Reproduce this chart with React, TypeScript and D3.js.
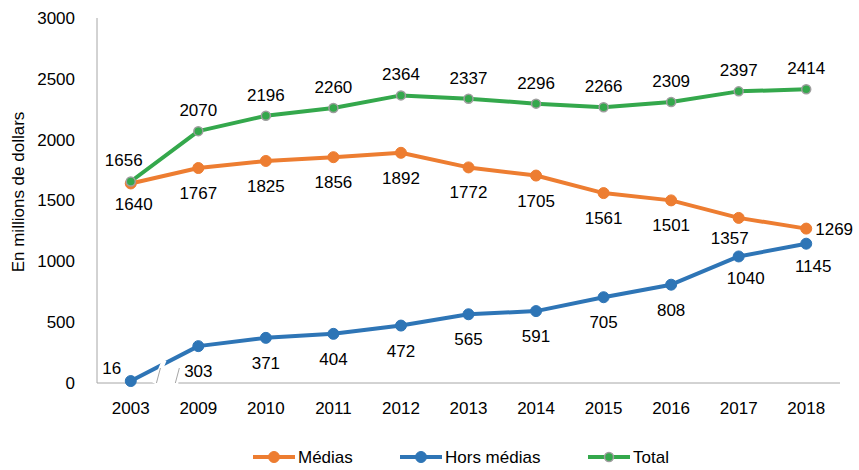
import React from 'react';
import * as d3 from 'd3';

const years = ['2003', '2009', '2010', '2011', '2012', '2013', '2014', '2015', '2016', '2017', '2018'];
const medias = [1640, 1767, 1825, 1856, 1892, 1772, 1705, 1561, 1501, 1357, 1269];
const horsMedias = [16, 303, 371, 404, 472, 565, 591, 705, 808, 1040, 1145];
const total = [1656, 2070, 2196, 2260, 2364, 2337, 2296, 2266, 2309, 2397, 2414];
const yTicks = [0, 500, 1000, 1500, 2000, 2500, 3000];

const W = 859;
const H = 470;
const FONT = '"Liberation Sans", Arial, sans-serif';

const ORANGE = '#ED7D31';
const BLUE = '#2E75B6';
const GREEN = '#34A84C';
const AXIS = '#A6A6A6';

type Series = {
  name: string;
  values: number[];
  color: string;
  pos: 'above' | 'below';
};

const series: Series[] = [
  { name: 'Médias', values: medias, color: ORANGE, pos: 'below' },
  { name: 'Hors médias', values: horsMedias, color: BLUE, pos: 'below' },
  { name: 'Total', values: total, color: GREEN, pos: 'above' },
];

export default function App() {
  const left = 97;
  const right = 840;
  const top = 18;
  const bottom = 383;

  const x = d3.scalePoint<string>().domain(years).range([left, right]).padding(0.5);
  const y = d3.scaleLinear().domain([0, 3000]).range([bottom, top]);
  const step = x.step();

  const line = d3.line<number>()
    .x((_, i) => x(years[i])!)
    .y(d => y(d));

  // axis break between 2003 and 2009
  const x0 = x(years[0])!;
  const b1 = x0 + step * 0.38;
  const b2 = x0 + step * 0.66;

  // label placement tweaks
  const labelPos = (s: Series, i: number, v: number) => {
    let lx = x(years[i])!;
    let ly = y(v);
    let anchor = 'middle';
    if (s.pos === 'above') ly -= 21;
    else ly += 25;
    if (i === 0) {
      if (s.name === 'Total') lx -= 7;
      if (s.name === 'Médias') { lx += 3; ly = y(v) + 21; }
      if (s.name === 'Hors médias') { lx -= 19; ly = y(v) - 13; }
    }
    if (s.name === 'Médias' && i === years.length - 1) {
      lx += 9;
      ly = y(v);
      anchor = 'start';
    }
    if (s.name === 'Médias' && i === years.length - 2) {
      lx -= 9;
      ly = y(v) + 20;
    }
    if (s.name === 'Hors médias' && i >= years.length - 2) {
      lx += 7;
      ly = y(v) + 22;
    }
    return { lx, ly, anchor };
  };

  const legend = [
    { s: series[0], x: 253 },
    { s: series[1], x: 400 },
    { s: series[2], x: 588 },
  ];

  return (
    <svg width={W} height={H} style={{ position: 'absolute', left: 0, top: 0, background: '#fff' }} fontFamily={FONT}>
      {/* y axis */}
      <line x1={left} x2={left} y1={top} y2={bottom} stroke={AXIS} strokeWidth={1} />
      {yTicks.map(t => (
        <text key={t} x={75} y={y(t)} dy="0.35em" textAnchor="end" fontSize={17} fill="#000">{t}</text>
      ))}
      <text transform={`translate(18,192) rotate(-90)`} dy="0.35em" textAnchor="middle" fontSize={17} fill="#000">
        En millions de dollars
      </text>

      {/* x axis with break */}
      <line x1={left} x2={b1 - 2} y1={bottom} y2={bottom} stroke={AXIS} />
      <line x1={b2 + 3} x2={right} y1={bottom} y2={bottom} stroke={AXIS} />
      {years.map(yr => (
        <text key={yr} x={x(yr)} y={bottom + 25} dy="0.35em" textAnchor="middle" fontSize={17} fill="#000">{yr}</text>
      ))}

      {/* lines */}
      {series.map(s => (
        <path key={s.name} d={line(s.values)!} fill="none" stroke={s.color} strokeWidth={4} strokeLinejoin="round" />
      ))}

      {/* break gap + slashes */}
      <polygon
        points={`${b1 - 4},${bottom} ${b1 + 5},${bottom - 22} ${b1 + 10},${bottom - 22} ${b1 + 1},${bottom}`}
        fill="#fff"
      />
      <line x1={b1} y1={bottom} x2={b1 + 4} y2={bottom - 15} stroke={AXIS} />
      <line x1={b2} y1={bottom} x2={b2 + 4} y2={bottom - 15} stroke={AXIS} />

      {/* markers */}
      {series.map(s =>
        s.values.map((v, i) => (
          <circle
            key={s.name + i}
            cx={x(years[i])}
            cy={y(v)}
            r={s.name === 'Total' ? 4.5 : 5.5}
            fill={s.color}
            stroke={s.name === 'Total' ? '#9E9E9E' : s.color}
            strokeWidth={s.name === 'Total' ? 1.5 : 1}
          />
        ))
      )}

      {/* data labels */}
      {series.map(s =>
        s.values.map((v, i) => {
          const { lx, ly, anchor } = labelPos(s, i, v);
          return (
            <text key={'l' + s.name + i} x={lx} y={ly} dy="0.35em" textAnchor={anchor} fontSize={17} fill="#000">
              {v}
            </text>
          );
        })
      )}

      {/* legend */}
      {legend.map(({ s, x: lx }) => (
        <g key={s.name} transform={`translate(${lx},457)`}>
          <line x1={0} x2={42} y1={0} y2={0} stroke={s.color} strokeWidth={4} />
          <circle
            cx={21}
            cy={0}
            r={s.name === 'Total' ? 4.5 : 5.5}
            fill={s.color}
            stroke={s.name === 'Total' ? '#9E9E9E' : s.color}
            strokeWidth={s.name === 'Total' ? 1.5 : 1}
          />
          <text x={45} y={0} dy="0.35em" fontSize={17} fill="#000">{s.name}</text>
        </g>
      ))}
    </svg>
  );
}
